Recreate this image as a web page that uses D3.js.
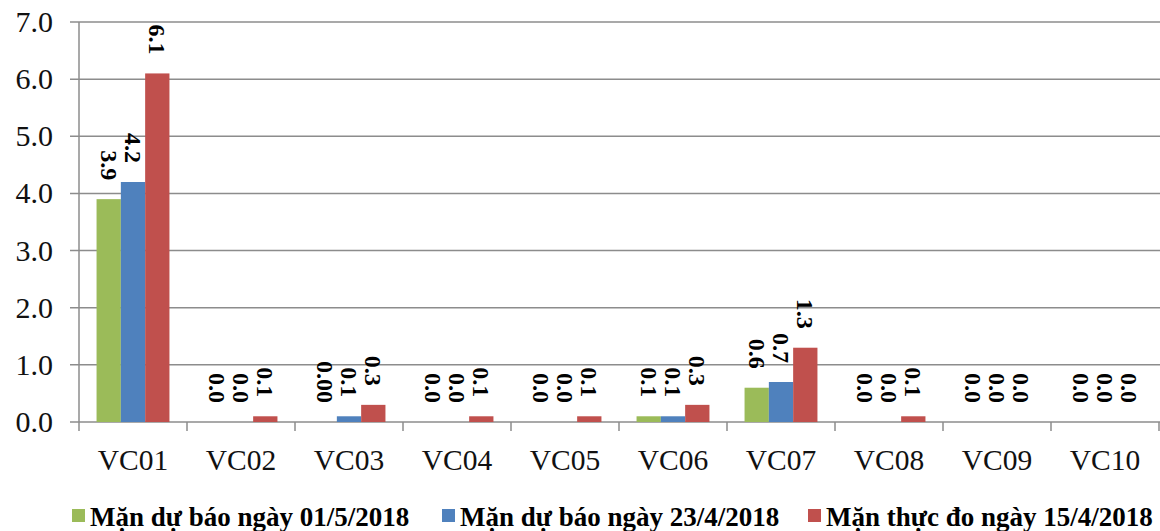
<!DOCTYPE html>
<html><head><meta charset="utf-8">
<script src="https://cdn.jsdelivr.net/npm/d3@7"></script>
<style>body{margin:0;background:#fff}svg{display:block}
text{font-family:'Liberation Serif','Times New Roman','DejaVu Serif',serif}</style>
</head><body>
<svg id="c" width="1160" height="531"></svg>
<script>
const categories = ["VC01","VC02","VC03","VC04","VC05","VC06","VC07","VC08","VC09","VC10"];
const seriesNames = ["Mặn dự báo ngày 01/5/2018","Mặn dự báo ngày 23/4/2018","Mặn thực đo ngày 15/4/2018"];
const seriesA = [3.9,0.0,0.0,0.0,0.0,0.1,0.6,0.0,0.0,0.0];
const seriesB = [4.2,0.0,0.1,0.0,0.0,0.1,0.7,0.0,0.0,0.0];
const seriesC = [6.1,0.1,0.3,0.1,0.1,0.3,1.3,0.1,0.0,0.0];
const labelsA = ["3.9","0.0","0.00","0.0","0.0","0.1","0.6","0.0","0.0","0.0"];
const labelsB = ["4.2","0.0","0.1","0.0","0.0","0.1","0.7","0.0","0.0","0.0"];
const labelsC = ["6.1","0.1","0.3","0.1","0.1","0.3","1.3","0.1","0.0","0.0"];
const yTicks = [0,1,2,3,4,5,6,7];
const colors = ["#9BBB59","#4F81BD","#C0504D"];

(function(){
const series = [seriesA, seriesB, seriesC];
const labels = [labelsA, labelsB, labelsC];

const svg = d3.select("#c");
const pLeft = 79, pRight = 1159, pTop = 22, pBottom = 422;
const x = d3.scaleBand().domain(categories).range([pLeft, pRight]).paddingInner(0).paddingOuter(0);
const barW = 24.3;
const y = d3.scaleLinear().domain([0,7]).range([pBottom, pTop]);

svg.append("g").selectAll("line").data(yTicks).join("line")
  .attr("x1", pLeft - 9).attr("x2", 1160)
  .attr("y1", d => y(d)).attr("y2", d => y(d))
  .attr("stroke", "#8c8c8c").attr("stroke-width", 1.5);

svg.append("line").attr("x1", pLeft).attr("x2", pLeft).attr("y1", pTop).attr("y2", pBottom)
  .attr("stroke", "#8c8c8c").attr("stroke-width", 1.5);

const bounds = categories.map(c => x(c)).concat([pRight]);
svg.append("g").selectAll("line").data(bounds).join("line")
  .attr("x1", d => d).attr("x2", d => d).attr("y1", pBottom).attr("y2", pBottom + 9)
  .attr("stroke", "#8c8c8c").attr("stroke-width", 1.5);

svg.append("g").selectAll("text").data(yTicks).join("text")
  .attr("x", 53).attr("y", d => y(d) + 10)
  .attr("text-anchor", "end")
  .attr("font-size", 30).attr("fill", "#111")
  .text(d => d3.format(".1f")(d));

svg.append("g").selectAll("text").data(categories).join("text")
  .attr("x", d => x(d) + x.bandwidth()/2).attr("y", 470)
  .attr("text-anchor", "middle")
  .attr("font-size", 29.5).attr("fill", "#111")
  .text(d => d);

series.forEach((s, si) => {
  const g = svg.append("g");
  const bx = (i) => x(categories[i]) + x.bandwidth()/2 + (si - 1.5) * barW;
  g.selectAll("rect").data(s).join("rect")
    .attr("x", (d,i) => bx(i))
    .attr("width", barW)
    .attr("y", d => y(d))
    .attr("height", d => pBottom - y(d))
    .attr("fill", colors[si]);
  g.selectAll("text").data(s).join("text")
    .attr("transform", (d,i) => `translate(${bx(i) + barW/2},${y(d) - 19}) rotate(90)`)
    .attr("text-anchor", "end")
    .attr("dominant-baseline", "central")
    .attr("font-weight", "bold")
    .attr("font-size", 24).attr("fill", "#000")
    .text((d,i) => labels[si][i]);
});

const legendX = [72, 442, 808];
const lg = svg.append("g");
seriesNames.forEach((n, i) => {
  lg.append("rect").attr("x", legendX[i]).attr("y", 509).attr("width", 13).attr("height", 13).attr("fill", colors[i]);
  lg.append("text").attr("x", legendX[i] + 18).attr("y", 526)
    .attr("font-weight", "bold").attr("font-size", 27).attr("fill", "#000")
    .text(n);
});
})();
</script>
</body></html>
